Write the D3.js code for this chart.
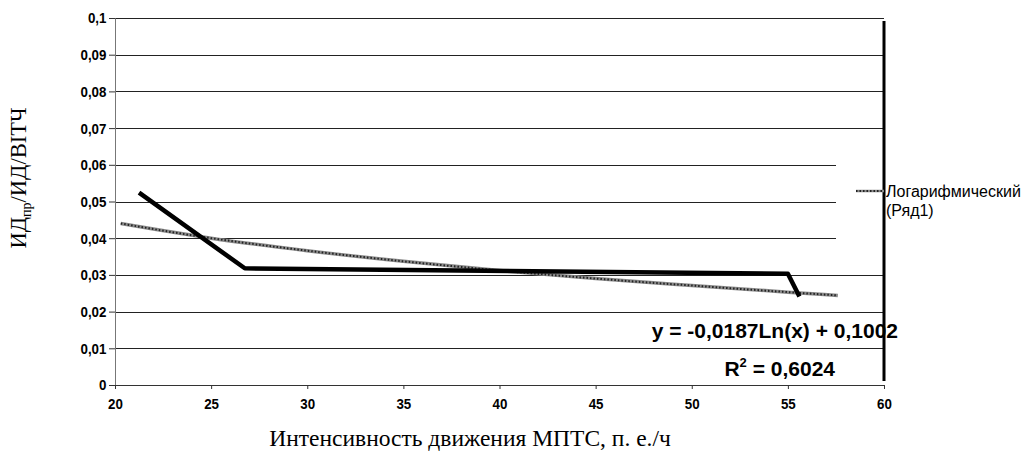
<!DOCTYPE html>
<html><head><meta charset="utf-8">
<script src="https://cdn.jsdelivr.net/npm/d3@7"></script>
<style>
body{margin:0;background:#fff;}
svg{display:block;}
</style></head>
<body>
<svg id="c" width="1021" height="459"></svg>
<script>
// Data
const dataX = [21.25, 26.75, 55.0, 55.6];
const dataY = [0.0524, 0.0318, 0.0303, 0.0241];
const trendX = [20.3, 25, 30, 35, 40, 45, 50, 55, 57.6];
const trendY = [0.0440, 0.0400, 0.0366, 0.0337, 0.0312, 0.0290, 0.0271, 0.0253, 0.0244];
const xTicks = [20, 25, 30, 35, 40, 45, 50, 55, 60];
const yTicks = [0, 0.01, 0.02, 0.03, 0.04, 0.05, 0.06, 0.07, 0.08, 0.09, 0.1];
const legendLabel = ["Логарифмический", "(Ряд1)"];
const equation = "y = -0,0187Ln(x) + 0,1002";
const rSquared = "0,6024";

const SANS = "'Liberation Sans', Arial, sans-serif";
const SERIF = "'Liberation Serif', 'Times New Roman', serif";

const svg = d3.select("#c");
const L = 115, R = 884, T = 18, B = 385;
const x = d3.scaleLinear().domain([20, 60]).range([L, R]);
const y = d3.scaleLinear().domain([0, 0.1]).range([B, T]);
const fmt = v => (v === 0 ? "0" : d3.format(".2~f")(v).replace(".", ","));

// gridlines
svg.append("g").selectAll("line").data(yTicks.filter(d => d > 0)).join("line")
  .attr("x1", L).attr("x2", R)
  .attr("y1", d => Math.round(y(d)) + 0.5).attr("y2", d => Math.round(y(d)) + 0.5)
  .attr("stroke", "#222").attr("stroke-width", 1);

// legend background covers gridlines
svg.append("rect").attr("x", 836).attr("y", 150).attr("width", 47).attr("height", 105).attr("fill", "#fff");

// Y axis
const yAxis = svg.append("g").attr("transform", `translate(${L},0)`)
  .call(d3.axisLeft(y).tickValues(yTicks).tickFormat(fmt).tickSize(6).tickPadding(4));
yAxis.select(".domain").attr("stroke", "#777");
yAxis.selectAll(".tick line").attr("stroke", "#333");
yAxis.selectAll("text").attr("font-family", SANS)
  .attr("font-size", 15.5).attr("fill", "#000").style("font-weight", "bold")
  .attr("transform", "scale(0.86,1)");

// X axis
const xAxis = svg.append("g").attr("transform", `translate(0,${B})`)
  .call(d3.axisBottom(x).tickValues(xTicks).tickFormat(d3.format("d")).tickSize(4).tickPadding(9));
xAxis.select(".domain").attr("stroke", "#333");
xAxis.selectAll(".tick line").attr("stroke", "#333");
xAxis.selectAll("text").attr("font-family", SANS)
  .attr("font-size", 15.5).attr("fill", "#000").style("font-weight", "bold")
  .attr("transform", "scale(0.86,1)");

// right border line
svg.append("line").attr("x1", R).attr("x2", R).attr("y1", T + 3).attr("y2", B - 4)
  .attr("stroke", "#000").attr("stroke-width", 3);

// trend line
const tline = d3.line().x((d, i) => x(trendX[i])).y((d, i) => y(trendY[i])).curve(d3.curveMonotoneX);
svg.append("path").attr("d", tline(trendY)).attr("fill", "none")
  .attr("stroke", "#8a8a8a").attr("stroke-width", 3.5);
svg.append("path").attr("d", tline(trendY)).attr("fill", "none")
  .attr("stroke", "#222").attr("stroke-width", 2).attr("stroke-dasharray", "1.5,2");

// data line
const dline = d3.line().x((d, i) => x(dataX[i])).y((d, i) => y(dataY[i]));
svg.append("path").attr("d", dline(dataY)).attr("fill", "none")
  .attr("stroke", "#000").attr("stroke-width", 4.5).attr("stroke-linejoin", "round");

// legend
svg.append("line").attr("x1", 856).attr("x2", 884).attr("y1", 191).attr("y2", 191)
  .attr("stroke", "#8a8a8a").attr("stroke-width", 2.5);
svg.append("line").attr("x1", 856).attr("x2", 884).attr("y1", 191).attr("y2", 191)
  .attr("stroke", "#222").attr("stroke-width", 2).attr("stroke-dasharray", "1.5,2");
svg.append("text").attr("x", 886).attr("y", 197).text(legendLabel[0])
  .attr("font-family", SANS).attr("font-size", 16).attr("fill", "#000");
svg.append("text").attr("x", 886).attr("y", 216).text(legendLabel[1])
  .attr("font-family", SANS).attr("font-size", 16).attr("fill", "#000");

// equation
svg.append("text").attr("x", 898).attr("y", 338).attr("text-anchor", "end").text(equation)
  .attr("font-family", SANS).attr("font-size", 21)
  .attr("font-weight", "bold").attr("fill", "#000");
const r2 = svg.append("text").attr("x", 835).attr("y", 376).attr("text-anchor", "end")
  .attr("font-family", SANS).attr("font-size", 21)
  .attr("font-weight", "bold").attr("fill", "#000");
r2.append("tspan").text("R");
r2.append("tspan").attr("dy", -9).attr("font-size", 13).text("2");
r2.append("tspan").attr("dy", 9).text(" = " + rSquared);

// axis titles
svg.append("text").attr("x", 470).attr("y", 446).attr("text-anchor", "middle")
  .attr("font-family", SERIF).attr("font-size", 23.5)
  .attr("fill", "#000").text("Интенсивность движения МПТС, п. е./ч");
const yt = svg.append("text").attr("transform", "translate(26,178) rotate(-90)")
  .attr("text-anchor", "middle")
  .attr("font-family", SERIF).attr("font-size", 22.5).attr("fill", "#000");
yt.append("tspan").text("ИД");
yt.append("tspan").attr("dy", 5).attr("font-size", 14).text("пр");
yt.append("tspan").attr("dy", -5).text("/ИД/ВIТЧ");
</script>
</body></html>
